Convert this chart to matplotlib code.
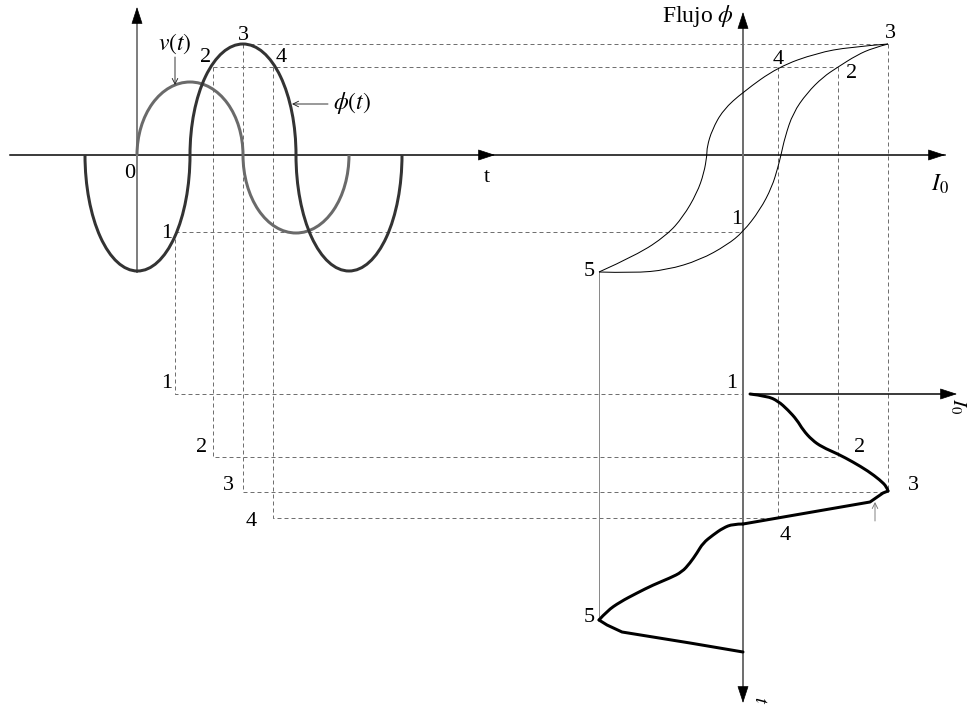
import numpy as np
from matplotlib import pyplot as plt
from matplotlib.patches import Arc, PathPatch
from matplotlib.path import Path

plt.rcParams['font.family'] = ['Liberation Serif', 'DejaVu Serif']
plt.rcParams['mathtext.fontset'] = 'stix'

# left panel: time (px from origin) and amplitudes (px above the t axis)
phi_zero_t = [-52, 53, 159, 265]
phi_peaks = [-116, 111, -116]
v_zero_t = [0, 106, 212]
v_peaks = [73, -78]

# marked instants 1..4
mark_names = ['1', '2', '3', '4']
mark_t = [38, 76, 106, 136]
mark_phi = [-77, 88, 111, 88]
mark_I = [0, 95, 145, 35]
mark_tau = [0, 63, 98, 124]

# hysteresis loop (current, flux)
rise_I = [-144, -110, -76, -43, -16, 0, 17, 29, 35, 38, 42, 50, 64, 80, 95, 114, 130, 145]
rise_phi = [-117, -118, -115, -105, -90, -77, -55, -32, -12, 0, 18, 42, 62, 78, 88, 100, 107, 111]
fall_I = [145, 107, 74, 35, 0, -20, -31, -36, -36, -39, -46, -60, -76, -106, -144]
fall_phi = [111, 108, 102, 88, 63, 45, 25, 8, 0, -18, -38, -62, -80, -100, -117]

# magnetising current against time (current, time downwards)
i0_I = [7, 24, 35, 45, 54, 60, 69, 79, 95, 110, 125, 137, 144, 145, 140, 127, 0, -10, -20,
        -30, -40, -46, -53, -61, -73, -90, -106, -123, -136, -144, -136, -121, -53, 0]
i0_tau = [0, 2, 7, 16, 26, 36, 46, 53, 60, 68, 77, 86, 93, 97, 99, 108, 130, 130, 134,
          141, 149, 159, 169, 178, 184, 191, 199, 208, 217, 226, 231, 238, 249, 258]
i0_smooth = [(0, 13), (16, 29)]
i0_straight = [(13, 16), (29, 33)]

# layout (pixels)
O1 = (137, 155)
O2 = (743, 155)
O3 = (743, 394)
PX = 0.72  # points per pixel at dpi 100


def left(t, v):
    return O1[0] + np.asarray(t), O1[1] - np.asarray(v)


def right(i, phi):
    return O2[0] + np.asarray(i), O2[1] - np.asarray(phi)


def bottom(i, tau):
    return O3[0] + np.asarray(i), O3[1] + np.asarray(tau)


def smooth_path(xs, ys):
    pts = list(zip(xs, ys))
    verts = [pts[0]]
    codes = [Path.MOVETO]
    if len(pts) == 2:
        return Path(pts, [Path.MOVETO, Path.LINETO])
    for k in range(1, len(pts) - 1):
        mid = ((pts[k][0] + pts[k + 1][0]) / 2, (pts[k][1] + pts[k + 1][1]) / 2)
        if k == len(pts) - 2:
            mid = pts[-1]
        verts += [pts[k], mid]
        codes += [Path.CURVE3, Path.CURVE3]
    return Path(verts, codes)


def head(ax, tip, base, color='k'):
    ax.annotate('', xy=tip, xytext=base,
                arrowprops=dict(arrowstyle='-|>,head_length=1.1,head_width=0.36',
                                mutation_scale=10, color=color, lw=0.5,
                                shrinkA=0, shrinkB=0))


fig = plt.figure(figsize=(9.69, 7.07), dpi=100)
ax = fig.add_axes([0, 0, 1, 1])
ax.set_xlim(0, 969)
ax.set_ylim(707, 0)
ax.axis('off')

dash = dict(color='#707070', lw=1 * PX, linestyle=(0, (4, 3)))

# dashed construction lines
for k in range(4):
    x, y = left(mark_t[k], mark_phi[k])
    xb, yb = bottom(mark_I[k], mark_tau[k])
    xr, yr = right(mark_I[k], mark_phi[k])
    ax.plot([x, x, xb], [y, yb, yb], **dash)
    if k != 3:
        ax.plot([x, xr], [y, yr], **dash)
    if k != 0:
        ax.plot([xr, xr], [yr, yb], **dash)

# axes of the diagram
ax.plot([10, 945], [O1[1], O1[1]], color='k', lw=1.5 * PX)
head(ax, (495, O1[1]), (479, O1[1]))
head(ax, (945, O2[1]), (929, O2[1]))
ax.plot([O1[0], O1[0]], [272, 20], color='#808080', lw=2 * PX)
head(ax, (O1[0], 7), (O1[0], 23))
ax.plot([O2[0], O2[0]], [24, 690], color='#707070', lw=2 * PX)
head(ax, (O2[0], 12), (O2[0], 27))
head(ax, (O2[0], 703), (O2[0], 688))
ax.plot([750, 945], [O3[1], O3[1]], color='k', lw=1.5 * PX)
head(ax, (957, O3[1]), (942, O3[1]))

# half waves of flux and voltage
for k, peak in enumerate(phi_peaks):
    a, b = phi_zero_t[k], phi_zero_t[k + 1]
    cx, cy = left((a + b) / 2, 0)
    th = (180, 360) if peak > 0 else (0, 180)
    ax.add_patch(Arc((cx, cy), b - a, 2 * abs(peak), theta1=th[0], theta2=th[1],
                     color='#333333', lw=3 * PX, zorder=4))
for k, peak in enumerate(v_peaks):
    a, b = v_zero_t[k], v_zero_t[k + 1]
    cx, cy = left((a + b) / 2, 0)
    th = (180, 360) if peak > 0 else (0, 180)
    ax.add_patch(Arc((cx, cy), b - a, 2 * abs(peak), theta1=th[0], theta2=th[1],
                     color='#6a6a6a', lw=3 * PX, zorder=3))

# hysteresis loop
for xs, ys in [right(rise_I, rise_phi), right(fall_I, fall_phi)]:
    ax.add_patch(PathPatch(smooth_path(xs, ys), fill=False, color='k', lw=1 * PX, zorder=4))

# point 5 projection
x5, y5 = right(rise_I[0], rise_phi[0])
ax.plot([x5, x5], [y5, bottom(0, i0_tau[29])[1]], color='#8a8a8a', lw=1 * PX)

# current waveform
bx, by = bottom(i0_I, i0_tau)
for a, b in i0_smooth:
    ax.add_patch(PathPatch(smooth_path(bx[a:b + 1], by[a:b + 1]), fill=False, color='k',
                           lw=3 * PX, joinstyle='round', capstyle='round', zorder=5))
for a, b in i0_straight:
    ax.plot(bx[a:b + 1], by[a:b + 1], color='k', lw=3 * PX, solid_joinstyle='round',
            solid_capstyle='round', zorder=5)

# small pointers
thin = dict(arrowstyle='->', color='#222222', lw=0.9 * PX, shrinkA=0, shrinkB=0, mutation_scale=10)
ax.annotate('', xy=(175, 85), xytext=(175, 57), arrowprops=thin)
ax.annotate('', xy=(292, 104), xytext=(328, 104), arrowprops=thin)
ax.annotate('', xy=(875, 502), xytext=(875, 521),
            arrowprops=dict(thin, color='#777777'))

fs = 16
txt = dict(fontsize=fs, ha='center', va='center')
labels = [('3', 243, 35), ('2', 206, 58), ('4', 281, 58), ('1', 167, 233), ('0', 130, 173),
          ('t', 487, 177),
          ('1', 167, 384), ('2', 202, 447), ('3', 228, 485), ('4', 251, 522),
          ('3', 890, 33), ('4', 778, 60), ('2', 852, 74), ('1', 737, 220), ('5', 589, 272),
          ('1', 732, 384), ('2', 860, 448), ('3', 913, 485), ('4', 785, 535), ('5', 589, 617)]
for s, x, y in labels:
    ax.text(x, y, s, **txt)

ax.text(175, 44, r'$\mathit{v(t)}$', fontsize=17, ha='center', va='center')
ax.text(352, 103, r'$\mathit{\phi(t)}$', fontsize=17, ha='center', va='center')
ax.text(734, 16, r'Flujo $\phi$', fontsize=17, ha='right', va='center')
ax.text(940, 184, r'$\mathit{I_0}$', fontsize=17, ha='center', va='center')
ax.text(958, 406, r'$\mathit{I_0}$', fontsize=15, ha='center', va='center', rotation=-90)
ax.text(760, 700, r'$\mathit{t}$', fontsize=15, ha='center', va='center', rotation=-90)

fig.savefig('out.png', dpi=100)
